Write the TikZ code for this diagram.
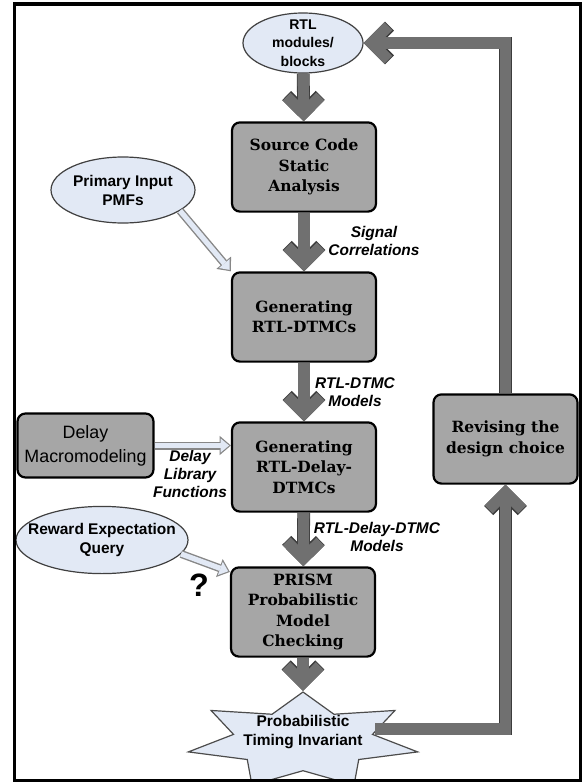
\documentclass[tikz,border=0pt]{standalone}
\usepackage{fontspec}
\setmainfont{Liberation Sans}
\newfontfamily\slabfont{DejaVu Serif}
\usetikzlibrary{arrows.meta,shapes.geometric}
\definecolor{boxgray}{RGB}{166,166,166}
\definecolor{flowgray}{RGB}{112,112,112}
\definecolor{flowedge}{RGB}{60,60,60}
\definecolor{paleblue}{RGB}{226,233,245}
\definecolor{feededge}{RGB}{135,135,135}

\begin{document}
\begin{tikzpicture}[x=0.25mm, y=-0.25mm,
      stage/.style={draw, line width=0.55mm, fill=boxgray, rounded corners=2mm,
                    minimum width=36mm, minimum height=22.3mm, inner sep=1pt,
                    align=center, font=\slabfont\bfseries\fontsize{11}{14.5}\selectfont},
      pool/.style={ellipse, draw=black!75, line width=0.3mm, fill=paleblue, inner sep=0pt},
      pooltext/.style={align=center, font=\bfseries\fontsize{11}{13.5}\selectfont},
      lbl/.style={align=center, font=\bfseries\itshape\fontsize{11}{13}\selectfont},
      flow/.style={draw=flowgray, line width=2.8mm,
                   -{Straight Barb[length=4.2mm, width=8.4mm]},
                   preaction={draw=flowedge, line width=3.2mm,
                              -{Straight Barb[length=4.2mm, width=8.4mm]}}},
      feed/.style={draw=feededge, line width=2mm,
                   -{Triangle[length=2.8mm, width=4.8mm, line width=0pt]},
                   postaction={draw=paleblue, line width=1.3mm, shorten >=0.45mm,
                               -{Triangle[length=2.1mm, width=3.5mm, line width=0pt]}}}
    ]
    \useasboundingbox (0,0) rectangle (582,783);

    % Main chain
    \node[pool, minimum width=30mm, minimum height=15mm,
          label={[pooltext, font=\bfseries\fontsize{10}{13}\selectfont]center:RTL\\modules/\\blocks}]
      (rtl) at (303,43) {};
    \node[stage] (src) at (304,167) {Source Code\\Static\\Analysis};
    \node[stage] (gen1) at (304,317) {Generating\\RTL-DTMCs};
    \node[stage] (gen2) at (304,467) {Generating\\RTL-Delay-\\DTMCs};
    \node[stage] (prism) at (303,612) {PRISM\\Probabilistic\\Model\\Checking};

    % Inputs on the left
    \node[pool, minimum width=36mm, minimum height=16.5mm,
          label={[pooltext]center:Primary Input\\PMFs}] (pmf) at (123,190) {};
    \node[stage, minimum width=34mm, minimum height=16mm,
          font=\fontsize{12.7}{17}\selectfont] (macro) at (85.5,445.5) {Delay\\Macromodeling};
    \node[pool, minimum width=43mm, minimum height=16.8mm,
          label={[pooltext]center:Reward Expectation\\Query}] (rew) at (102,540) {};
    \node[font=\bfseries\fontsize{23}{23}\selectfont] (ask) at (199,585) {?};

    % Feedback box
    \node[stage] (revise) at (505.5,439) {Revising the\\design choice};

    % Result
    \begin{scope}
      \clip (14,4) rectangle (580,780);
      \node[star, star points=7, star point ratio=1.65, minimum size=24.5mm, inner sep=0pt,
            draw=black!70, line width=0.3mm, fill=paleblue, xscale=2.4] (inv) at (303,741) {};
    \end{scope}
    \node[pooltext] (invtxt) at (303,732) {Probabilistic\\Timing Invariant};

    % Edge labels
    \node[lbl] (sigcorr) at (374,241) {Signal\\Correlations};
    \node[lbl] (dtmcmod) at (355,392) {RTL-DTMC\\Models};
    \node[lbl] (delmod) at (377,537) {RTL-Delay-DTMC\\Models};
    \node[lbl] (libfun) at (190,474) {Delay\\Library\\Functions};

    % Flow arrows
    \draw[flow] (rtl) -- (src);
    \draw[flow] (src) -- (gen1);
    \draw[flow] (gen1) -- (gen2);
    \draw[flow] (gen2) -- (prism);
    \draw[flow] (prism) -- (inv.north);

    \coordinate (fbfrom) at (375,729);
    \draw[flow] (fbfrom) -| (revise.south);
    \draw[flow] (revise.north) |- (rtl.east);

    % Side inputs
    \draw[feed] (pmf.-20) -- (gen1.north west);
    \draw[feed] (macro.east) -- (macro.east -| gen2.west);
    \draw[feed] (rew.-10) -- ([yshift=-4pt]prism.north west);

    % Frame
    \draw[line width=0.75mm] (14,4) rectangle (580,780);
  \end{tikzpicture}
\end{document}
